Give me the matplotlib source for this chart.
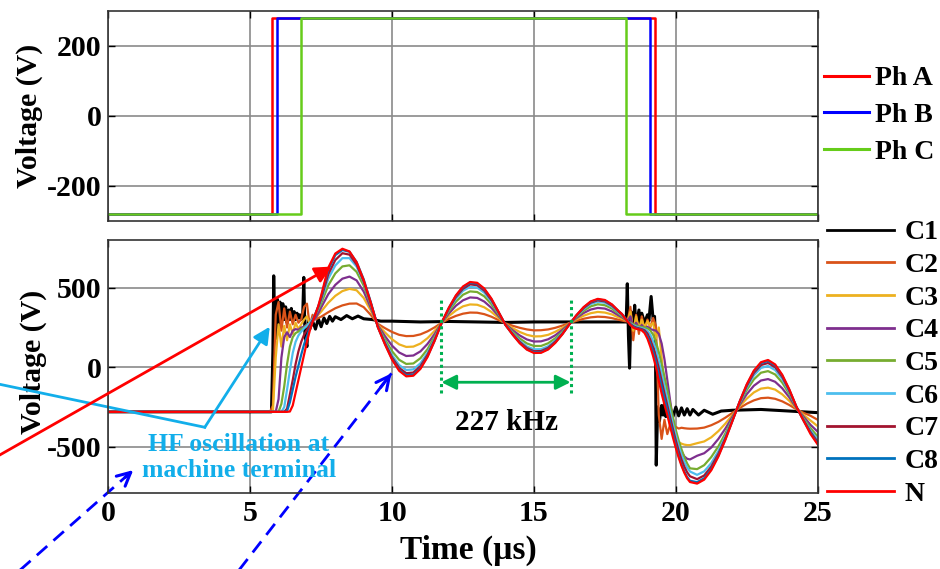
import numpy as np
import matplotlib
matplotlib.use('Agg')
import matplotlib.pyplot as plt

plt.rcParams['font.family'] = ['Liberation Serif', 'DejaVu Serif']
plt.rcParams['font.weight'] = 'bold'
plt.rcParams['axes.labelweight'] = 'bold'
plt.rcParams['axes.unicode_minus'] = False

# ---- top panel: phase voltages (step edges) ----
pha_t = [0, 5.76, 19.28, 25]
pha_v = [-280, 280, -280, -280]
phb_t = [0, 5.93, 19.10, 25]
phb_v = [-280, 280, -280, -280]
phc_t = [0, 6.78, 18.26, 25]
phc_v = [-280, 280, -280, -280]

# ---- bottom panel: coil / neutral voltages ----
t_us = [0, 5.7, 5.8, 5.9, 6.0, 6.1, 6.2, 6.3, 6.4, 6.5, 6.6, 6.7, 6.8, 6.9, 7.0, 7.1, 7.2, 7.3, 7.4, 7.5,
        7.75, 8.0, 8.25, 8.5, 8.75, 9.0, 9.25, 9.5, 9.75, 10.0, 10.25, 10.5, 10.75, 11.0, 11.25, 11.5,
        11.75, 12.0, 12.25, 12.5, 12.75, 13.0, 13.25, 13.5, 13.75, 14.0, 14.25, 14.5, 14.75, 15.0,
        15.25, 15.5, 15.75, 16.0, 16.25, 16.5, 16.75, 17.0, 17.25, 17.5, 17.75, 18.0,
        18.1, 18.2, 18.3, 18.4, 18.5, 18.6, 18.7, 18.8, 18.9, 19.0, 19.1, 19.2, 19.3, 19.4, 19.5,
        19.6, 19.7, 19.8, 19.9, 20.0, 20.1, 20.2, 20.3, 20.4, 20.5,
        20.75, 21.0, 21.25, 21.5, 21.75, 22.0, 22.25, 22.5, 22.75, 23.0, 23.25, 23.5, 23.75, 24.0,
        24.25, 24.5, 24.75, 25.0]

c2 = [-280, -280, -240, 330, 410, 230, 370, 250, 350, 270, 330, 280, 300, 380, 400, 260, 330, 300, 310, 318,
      346, 371, 389, 400, 401, 378, 329, 273, 246, 222, 204, 196, 197, 207, 226, 251, 280, 304, 323, 337,
      344, 343, 334, 318, 297, 276, 261, 248, 238, 232, 233, 238, 248, 262, 278, 292, 305, 314, 318, 316,
      309, 298,
      294, 290, 288, 380, 170, 330, 210, 320, 230, 300, 250, 310, 260, -300, -450, -330, -420, -360, -400,
      -375, -385, -380, -383, -385, -386,
      -385, -379, -364, -343, -316, -286, -256, -229, -208, -194, -191, -198, -214, -237, -264, -286, -305, -330]
c3 = [-280, -280, -280, 60, 270, 130, 260, 170, 270, 210, 280, 240, 270, 300, 320, 270, 295, 310, 330, 350,
      405, 449, 479, 493, 484, 436, 356, 267, 219, 176, 144, 128, 130, 149, 183, 229, 280, 322, 357, 383,
      395, 393, 377, 348, 311, 273, 246, 222, 204, 194, 195, 204, 223, 247, 276, 302, 324, 340, 348, 344,
      332, 312,
      305, 298, 290, 350, 230, 320, 240, 300, 250, 290, 260, 280, 180, 250, 60, -120, -270, -370, -425,
      -455, -470, -480, -486, -489, -489,
      -477, -466, -440, -401, -353, -299, -245, -197, -158, -134, -128, -140, -170, -211, -260, -299, -335, -370]
c4 = [-280, -280, -280, -280, -200, 60, 190, 220, 190, 230, 240, 235, 250, 255, 270, 275, 290, 310, 340, 375,
      459, 518, 557, 570, 546, 476, 374, 263, 196, 136, 93, 71, 74, 100, 147, 209, 280, 338, 387, 421,
      439, 436, 413, 374, 323, 271, 233, 200, 175, 162, 163, 176, 201, 235, 274, 310, 341, 363, 373, 369,
      351, 324,
      315, 303, 290, 320, 250, 280, 250, 265, 245, 255, 240, 235, 230, 210, 150, 50, -80, -210, -330,
      -420, -480, -530, -560, -575, -579,
      -556, -540, -504, -450, -384, -310, -236, -169, -116, -83, -74, -91, -132, -189, -256, -310, -362, -405]
c5 = [-280, -280, -280, -280, -280, -230, -120, 20, 130, 190, 215, 225, 240, 250, 265, 280, 300, 330, 365, 400,
      514, 590, 634, 641, 600, 513, 391, 258, 175, 101, 47, 21, 24, 57, 114, 192, 280, 352, 412, 456,
      477, 473, 446, 397, 333, 268, 222, 181, 150, 134, 134, 151, 182, 224, 272, 317, 355, 383, 396, 390,
      369, 335,
      322, 308, 293, 280, 270, 262, 257, 253, 250, 245, 232, 205, 160, 95, 20, -60, -145, -230, -315,
      -395, -460, -515, -565, -605, -635,
      -640, -615, -564, -497, -414, -321, -227, -143, -76, -34, -24, -45, -96, -168, -253, -321, -383, -435]
c6 = [-280, -280, -280, -280, -280, -280, -250, -140, -20, 90, 160, 200, 225, 245, 260, 280, 305, 335, 375, 420,
      556, 640, 686, 686, 633, 534, 400, 255, 160, 76, 14, -17, -13, 25, 91, 180, 280, 363, 431, 481,
      505, 501, 469, 414, 341, 267, 214, 166, 131, 113, 114, 132, 168, 216, 271, 322, 366, 398, 412, 406,
      381, 342,
      328, 311, 292, 276, 264, 256, 250, 246, 240, 228, 205, 165, 110, 40, -40, -120, -200, -280, -360,
      -430, -495, -550, -595, -630, -655,
      -676, -654, -602, -526, -432, -327, -222, -127, -51, -4, 8, -17, -74, -155, -251, -327, -398, -455]
c7 = [-280, -280, -280, -280, -280, -280, -280, -260, -170, -80, 20, 100, 160, 205, 235, 265, 295, 335, 380, 430,
      584, 674, 717, 708, 646, 540, 402, 254, 152, 62, -4, -37, -33, 7, 78, 173, 280, 368, 442, 494,
      521, 516, 482, 423, 345, 266, 209, 159, 121, 101, 102, 122, 161, 211, 271, 325, 372, 406, 421, 414,
      388, 347,
      333, 313, 291, 272, 258, 250, 245, 240, 232, 212, 175, 125, 65, -5, -85, -165, -240, -315, -390,
      -460, -525, -580, -625, -660, -685,
      -703, -680, -624, -544, -443, -331, -218, -117, -36, 14, 27, 1, -60, -147, -249, -331, -408, -470]
c8 = [-280, -280, -280, -280, -280, -280, -280, -275, -220, -140, -60, 10, 80, 145, 195, 245, 290, 335, 383, 440,
      612, 705, 737, 726, 662, 553, 410, 253, 147, 53, -16, -50, -46, -4, 69, 168, 280, 372, 449, 503,
      531, 526, 491, 429, 348, 265, 206, 154, 114, 94, 95, 115, 156, 208, 270, 327, 376, 411, 427, 420,
      393, 350,
      335, 312, 290, 268, 254, 246, 240, 235, 222, 195, 150, 95, 30, -45, -125, -200, -270, -345, -420,
      -490, -555, -610, -655, -690, -713,
      -722, -697, -639, -555, -450, -334, -216, -110, -26, 26, 40, 12, -51, -142, -248, -334, -413, -480]
n_v = [-280, -280, -280, -280, -280, -280, -280, -280, -278, -240, -160, -80, 0, 80, 160, 230, 285, 335, 385, 450,
       625, 715, 745, 728, 660, 548, 406, 252, 144, 48, -22, -57, -53, -10, 65, 166, 282, 374, 452, 508,
       536, 531, 495, 432, 349, 265, 205, 151, 111, 90, 91, 112, 153, 207, 270, 328, 378, 414, 430, 423,
       395, 351,
       335, 310, 288, 265, 250, 242, 238, 232, 215, 180, 130, 70, 0, -85, -165, -235, -300, -372, -442,
       -507, -567, -619, -663, -698, -721,
       -731, -706, -647, -561, -454, -335, -215, -107, -21, 32, 46, 18, -47, -139, -248, -335, -420, -485]

# C1 is the noisy first coil, sampled on its own time base
c1_t = [0, 5.75, 5.8, 5.83, 5.86, 5.9, 5.95, 6.0, 6.05, 6.1, 6.15, 6.2, 6.25, 6.3, 6.35, 6.4, 6.45, 6.5,
        6.55, 6.6, 6.65, 6.7, 6.75, 6.8, 6.85, 6.89, 6.93, 7.0, 7.05, 7.1,
        7.2, 7.3, 7.4, 7.5, 7.6, 7.7, 7.8, 7.9, 8.0, 8.2, 8.4, 8.6, 8.8, 9.0, 9.3, 9.6,
        10.0, 11.0, 12.0, 13.0, 14.0, 15.0, 16.0, 17.0, 18.0, 18.25, 18.29, 18.33, 18.37,
        18.42, 18.5, 18.55, 18.6, 18.7, 18.75, 18.8, 18.9, 19.0, 19.05, 19.13, 19.2, 19.25, 19.28, 19.31,
        19.36, 19.42, 19.5, 19.55, 19.6, 19.65, 19.7, 19.75, 19.8, 19.9, 20.0, 20.1, 20.2, 20.3, 20.4,
        20.5, 20.6, 20.8, 21.0, 21.3, 21.6, 22.0, 23.0, 24.0, 25.0]
c1_v = [-280, -280, 100, 575, 250, 180, 430, 250, 410, 270, 400, 300, 380, 280, 360, 300, 370, 290,
        350, 300, 340, 310, 330, 300, 320, 565, 200, 130, 300, 240,
        290, 240, 305, 255, 310, 275, 320, 290, 318, 300, 325, 305, 322, 305, 300, 290,
        290, 285, 288, 285, 282, 285, 285, 285, 285, 285, 525, 200, -5,
        350, 240, 390, 250, 360, 260, 340, 280, 330, 290, 445, 300, 320, 200, -615,
        -250, -340, -240, -300, -230, -310, -245, -300, -255, -310, -250, -305, -255, -300, -260,
        -300, -265, -300, -270, -295, -275, -270, -265, -275, -285]

phase_labels = ['Ph A', 'Ph B', 'Ph C']
phase_colors = ['#FF0000', '#0000FF', '#66CC1A']
coil_labels = ['C1', 'C2', 'C3', 'C4', 'C5', 'C6', 'C7', 'C8', 'N']
coil_colors = ['#000000', '#D95319', '#EDB120', '#7E2F8E', '#77AC30',
               '#4DBEEE', '#A2142F', '#0072BD', '#FF0000']

cyan = '#12AEEA'
green = '#00B050'
grid_c = '#8a8a8a'

fig = plt.figure(figsize=(9.4, 5.69), dpi=100)
ax1 = fig.add_axes([108.3/940, 1-220.7/569, 709.4/940, 209.7/569])
ax2 = fig.add_axes([108.3/940, 1-493/569, 709.4/940, 253/569])

for ax in (ax1, ax2):
  ax.set_axisbelow(True)
  ax.grid(True, color=grid_c, lw=1.2)
  ax.tick_params(direction='in', length=5, width=1, labelsize=21.5, pad=5,
                 right=True, top=True, colors='#000000')
  for s in ax.spines.values():
    s.set_color('#333333')
    s.set_linewidth(1.2)
  ax.set_xlim(0, 25)
  ax.set_xticks([0, 5, 10, 15, 20, 25])

# top
for tt, vv, lab, col in zip([pha_t, phb_t, phc_t], [pha_v, phb_v, phc_v], phase_labels, phase_colors):
  ax1.plot(tt, vv, drawstyle='steps-post', color=col, lw=1.8, label=lab)
ax1.set_ylim(-300, 300)
ax1.set_yticks([-200, 0, 200])
ax1.set_xticklabels([])
ax1.set_ylabel('Voltage (V)', fontsize=21.5)
ax1.yaxis.set_label_coords(-0.092, 0.5)
leg1 = ax1.legend(loc='upper left', bbox_to_anchor=(824/940, 1-66/569), bbox_transform=fig.transFigure,
                  frameon=False, fontsize=20, handlelength=1.62, handletextpad=0.22, labelspacing=0.40,
                  borderpad=0, borderaxespad=0)
for ln in leg1.get_lines():
  ln.set_linewidth(2.2)

# bottom
series = [c1_v, c2, c3, c4, c5, c6, c7, c8, n_v]
for i, (vv, lab, col) in enumerate(zip(series, coil_labels, coil_colors)):
  tt = c1_t if i == 0 else t_us
  ax2.plot(tt, vv, color=col, lw=2.2 if i == 0 else 1.6, label=lab)
ax2.set_ylim(-790, 800)
ax2.set_yticks([-500, 0, 500])
ax2.set_ylabel('Voltage (V)', fontsize=21.5)
ax2.yaxis.set_label_coords(-0.087, 0.52)
ax2.set_xlabel('Time (\u00b5s)', fontsize=24)
ax2.xaxis.set_label_coords(0.507, -0.165)
leg2 = ax2.legend(loc='upper left', bbox_to_anchor=(826.7/940, 1-220/569), bbox_transform=fig.transFigure,
                  frameon=False, fontsize=20, handlelength=2.43, handletextpad=0.38, labelspacing=0.26,
                  borderpad=0, borderaxespad=0)
for ln in leg2.get_lines():
  ln.set_linewidth(2.0)

# annotations
ax2.annotate('', xy=(7.87, 633), xytext=(-4.2, -589), annotation_clip=False,
             arrowprops=dict(arrowstyle='-|>', color='#FF0000', lw=2, mutation_scale=25,
                             shrinkA=0, shrinkB=0))
ax2.plot([-4.17, 3.40], [-94, -377], color=cyan, lw=2, clip_on=False)
ax2.annotate('', xy=(5.69, 255), xytext=(3.40, -377), annotation_clip=False,
             arrowprops=dict(arrowstyle='-|>', color=cyan, lw=2, mutation_scale=25,
                             shrinkA=0, shrinkB=0))
ax2.text(4.60, -567, 'HF oscillation at\nmachine terminal', color=cyan, fontsize=18.5,
         ha='center', va='center', multialignment='center')

for (x0, y0), (x1, y1) in [((-3.31, -1306), (0.88, -646)), ((4.47, -1306), (9.98, -38))]:
  ax2.plot([x0, x1], [y0, y1], color='#0000FF', lw=2, ls=(0, (5, 3)), clip_on=False)
  ax2.annotate('', xy=(x1, y1), xytext=(x0 + 0.93*(x1-x0), y0 + 0.93*(y1-y0)), annotation_clip=False,
               arrowprops=dict(arrowstyle='->', color='#0000FF', lw=2.2, mutation_scale=24,
                               shrinkA=0, shrinkB=0))

for x in (11.74, 16.29):
  ax2.plot([x, x], [-160, 423], color=green, lw=2.2, ls=(0, (1, 1.1)))
ax2.annotate('', xy=(16.29, -94), xytext=(11.74, -94),
             arrowprops=dict(arrowstyle='<|-|>', color=green, lw=2, mutation_scale=22,
                             shrinkA=0, shrinkB=0))
ax2.text(14.05, -345, '227 kHz', fontsize=21, ha='center', va='center')

fig.savefig('out.png', dpi=100)
